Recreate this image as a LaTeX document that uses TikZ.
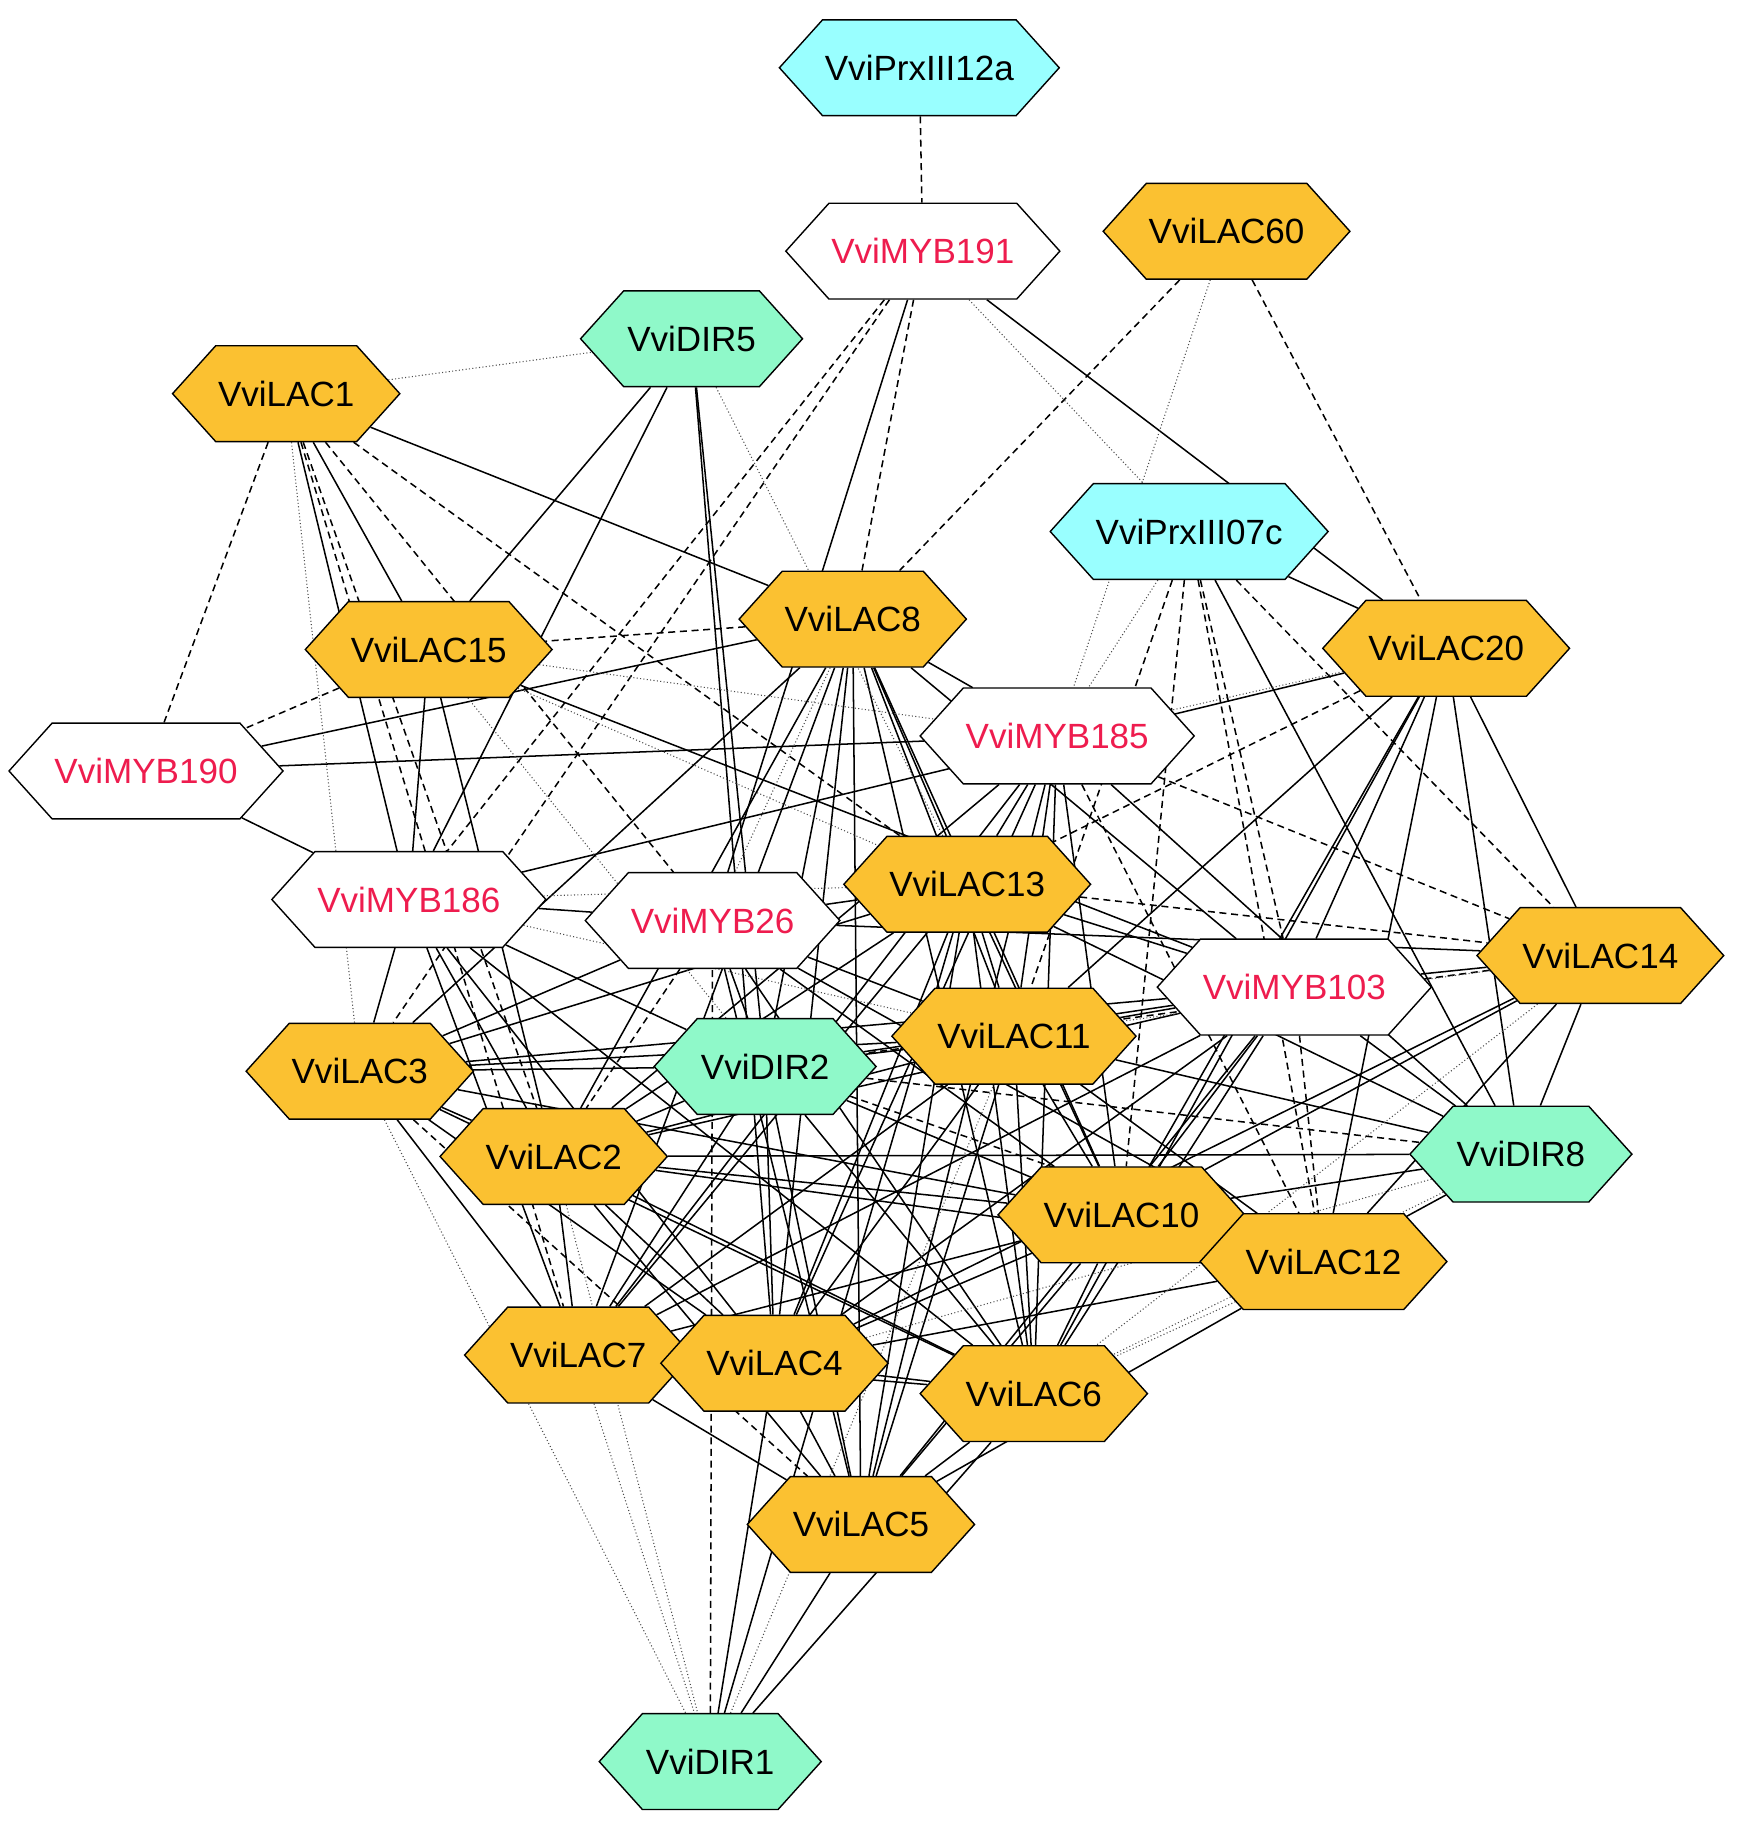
\documentclass[tikz,border=0pt]{standalone}
\usepackage{fontspec}
\setmainfont{Liberation Sans}
\usetikzlibrary{shapes.symbols,backgrounds}
\definecolor{lac}{HTML}{FBC131}
\definecolor{prx}{HTML}{99FFFF}
\definecolor{dir}{HTML}{8FF9C9}
\definecolor{myb}{HTML}{EE1C4E}
\tikzset{
 hexa/.style={signal, signal to=east and west, signal pointer angle=96, draw=black, line width=1.2pt,
   minimum width=190pt, minimum height=82pt, inner sep=2pt, font=\fontsize{30}{34}\selectfont},
 lacn/.style={hexa, fill=lac},
 prxn/.style={hexa, fill=prx},
 dirn/.style={hexa, fill=dir},
 mybn/.style={hexa, fill=white, text=myb},
 sl/.style={line width=1.3pt},
 dl/.style={line width=1.3pt, dash pattern=on 6pt off 4pt},
 tl/.style={line width=0.9pt, dotted, gray!60!black},
}
\begin{document}
\begin{tikzpicture}[x=1pt,y=-1pt]
\useasboundingbox (0,0) rectangle (1500,1582);
\node[prxn] (P12) at (787,58) {VviPrxIII12a};
\node[mybn] (M191) at (790,215) {VviMYB191};
\node[lacn] (L60) at (1050,198) {VviLAC60};
\node[dirn] (D5) at (592,290) {VviDIR5};
\node[lacn] (L1) at (245,337) {VviLAC1};
\node[prxn] (P07) at (1018,455) {VviPrxIII07c};
\node[lacn] (L8) at (730,530) {VviLAC8};
\node[lacn] (L15) at (367,556) {VviLAC15};
\node[lacn] (L20) at (1238,555) {VviLAC20};
\node[mybn] (M185) at (905,630) {VviMYB185};
\node[mybn] (M190) at (125,660) {VviMYB190};
\node[lacn] (L13) at (828,757) {VviLAC13};
\node[mybn] (M186) at (350,770) {VviMYB186};
\node[mybn] (M26) at (610,788) {VviMYB26};
\node[lacn] (L14) at (1370,818) {VviLAC14};
\node[mybn] (M103) at (1108,845) {VviMYB103};
\node[lacn] (L11) at (868,887) {VviLAC11};
\node[lacn] (L3) at (308,917) {VviLAC3};
\node[dirn] (D2) at (655,913) {VviDIR2};
\node[lacn] (L2) at (474,990) {VviLAC2};
\node[dirn] (D8) at (1302,988) {VviDIR8};
\node[lacn] (L10) at (960,1040) {VviLAC10};
\node[lacn] (L12) at (1133,1080) {VviLAC12};
\node[lacn] (L7) at (495,1160) {VviLAC7};
\node[lacn] (L4) at (663,1167) {VviLAC4};
\node[lacn] (L6) at (885,1193) {VviLAC6};
\node[lacn] (L5) at (737,1305) {VviLAC5};
\node[dirn] (D1) at (608,1508) {VviDIR1};
\begin{scope}[on background layer]
\foreach \a/\b in {L1/L15,L1/L8,L1/M186,M191/L20,M191/M26,D5/L15,D5/M186,D5/D2,D5/L4,P07/L20,P07/D8,
 L8/M190,L8/M185,L8/L13,L8/L11,L8/L10,L8/L5,L8/L4,L8/L7,L8/L6,L8/M103,L8/L3,L8/L2,L8/D2,
 L15/M103,L15/M186,L15/L2,L20/M186,L20/L14,L20/M103,L20/L11,L20/L10,L20/L12,L20/D8,L20/L6,
 M185/M190,M185/L13,M185/L11,M185/L10,M185/L6,M185/L5,M185/L4,M185/D8,M185/L2,M185/L7,
 M190/M186,L13/M26,L13/M103,L13/L11,L13/L10,L13/L6,L13/L5,L13/L4,L13/L7,L13/L2,L13/D8,L13/L3,
 M186/M26,M186/L3,M186/L2,M186/L7,M186/L4,M186/L6,M186/D2,
 M26/D2,M26/L11,M26/L14,M26/L10,M26/L6,M26/L5,M26/L3,M26/L12,
 L14/M103,L14/D8,L14/L12,L14/L10,L14/L4,
 M103/L11,M103/D2,M103/L10,M103/L4,M103/L5,M103/L6,M103/D8,M103/L7,M103/L2,M103/L3,
 L11/D2,L11/L3,L11/L2,L11/L10,L11/L12,L11/L6,L11/L5,L11/L4,L11/L7,L11/D8,
 L3/D2,L3/L2,L3/L4,L3/L7,L3/L10,L3/L6,D2/L2,D2/L10,D2/L7,D2/L4,D2/L6,D2/L5,
 L2/L10,L2/L12,L2/L7,L2/L4,L2/L6,L2/L5,L2/D8,D8/L10,D8/L12,L10/L12,L10/L6,L10/L5,L10/L4,L10/L7,
 L12/L4,L12/L5,L7/L4,L7/L6,L7/L5,L4/L6,L4/L5,L4/D1,L6/L5,L6/D1,L5/D1,L13/D1}
  \draw[sl] (\a) -- (\b);
\foreach \a/\b in {P12/M191,L1/M190,L1/M26,L1/L13,L1/L2,M191/M186,M191/L3,M191/L8,L60/L8,L60/L20,
 P07/L11,P07/L10,P07/L12,P07/L14,P07/M103,L8/L15,L15/M190,L20/L13,M185/L14,M185/L12,L13/L14,
 M26/L2,L14/D2,M103/L12,L3/L5,D2/L12,D2/D8,D1/M26,L1/L7}
  \draw[dl] (\a) -- (\b);
\foreach \a/\b in {L1/D5,L1/L3,M191/P07,L60/M185,D5/L13,P07/M185,L8/M26,L15/M185,L15/L13,L15/D2,
 L20/M185,M186/L13,M186/L11,L14/L11,L14/L6,L3/D1,L2/D1,D8/L6,D8/L4,L12/L6,L7/D1,D1/L11}
  \draw[tl] (\a) -- (\b);
\end{scope}
\end{tikzpicture}
\end{document}
